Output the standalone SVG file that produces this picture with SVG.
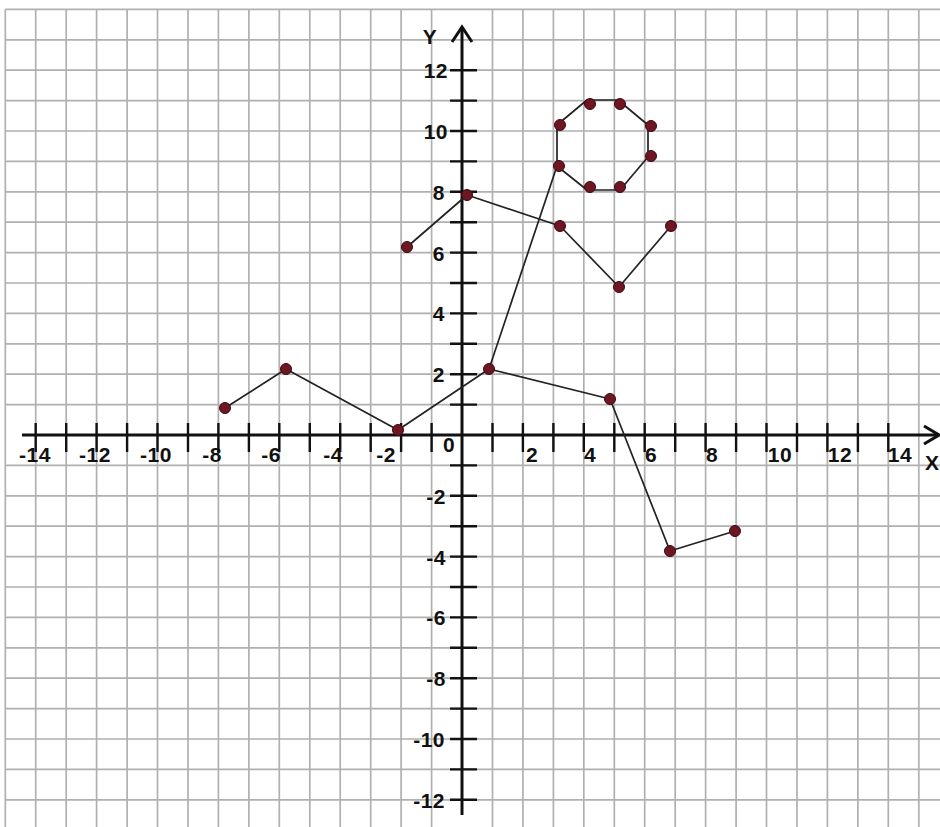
<svg xmlns="http://www.w3.org/2000/svg" width="940" height="827" viewBox="0 0 940 827">
<style>
.grid{stroke:#b0b0b0;stroke-width:1.7;fill:none}
.axis{stroke:#111;stroke-width:3;fill:none}
.tick{stroke:#111;stroke-width:2.4;fill:none}
.lbl{font-family:"Liberation Sans",Arial,sans-serif;font-size:21px;font-weight:bold;fill:#111;letter-spacing:0.5px}
.xl{text-anchor:middle}
.yl{text-anchor:end}
.edge{stroke:#222;stroke-width:1.7;fill:none;stroke-linejoin:round}
.pt{fill:#6e1622;stroke:#3a0a10;stroke-width:1}
</style>
<rect x="0" y="0" width="940" height="827" fill="#fff"/>
<g id="grid">
<path class="grid" d="M5.3 9.4V827M35.7 9.4V827M66.2 9.4V827M96.6 9.4V827M127.1 9.4V827M157.5 9.4V827M188 9.4V827M218.4 9.4V827M248.9 9.4V827M279.3 9.4V827M309.8 9.4V827M340.2 9.4V827M370.7 9.4V827M401.1 9.4V827M431.6 9.4V827M492.5 9.4V827M522.9 9.4V827M553.4 9.4V827M583.8 9.4V827M614.3 9.4V827M644.7 9.4V827M675.2 9.4V827M705.6 9.4V827M736.1 9.4V827M766.5 9.4V827M797 9.4V827M827.4 9.4V827M857.9 9.4V827M888.3 9.4V827M918.8 9.4V827"/>
<path class="grid" d="M5.3 9.4H940M5.3 39.8H940M5.3 70.2H940M5.3 100.6H940M5.3 131H940M5.3 161.4H940M5.3 191.8H940M5.3 222.2H940M5.3 252.6H940M5.3 283H940M5.3 313.4H940M5.3 343.8H940M5.3 374.2H940M5.3 404.6H940M5.3 465.4H940M5.3 495.8H940M5.3 526.2H940M5.3 556.6H940M5.3 587H940M5.3 617.4H940M5.3 647.8H940M5.3 678.2H940M5.3 708.6H940M5.3 739H940M5.3 769.4H940M5.3 799.8H940"/>
</g>
<g id="axes">
<path class="axis" d="M22 435H938"/>
<path class="axis" d="M924 426L939 435L924 444"/>
<path class="axis" d="M462 815V28"/>
<path class="axis" d="M452 42L462 27L472 42"/>
<path class="tick" d="M35.7 423V452M66.2 423V452M96.6 423V452M127.1 423V452M157.5 423V452M188 423V452M218.4 423V452M248.9 423V452M279.3 423V452M309.8 423V452M340.2 423V452M370.7 423V452M401.1 423V452M431.6 423V452M492.5 423V452M522.9 423V452M553.4 423V452M583.8 423V452M614.3 423V452M644.7 423V452M675.2 423V452M705.6 423V452M736.1 423V452M766.5 423V452M797 423V452M827.4 423V452M857.9 423V452M888.3 423V452"/>
<path class="tick" d="M450 70.2H477M450 100.6H477M450 131H477M450 161.4H477M450 191.8H477M450 222.2H477M450 252.6H477M450 283H477M450 313.4H477M450 343.8H477M450 374.2H477M450 404.6H477M450 465.4H477M450 495.8H477M450 526.2H477M450 556.6H477M450 587H477M450 617.4H477M450 647.8H477M450 678.2H477M450 708.6H477M450 739H477M450 769.4H477M450 799.8H477"/>
</g>
<g id="labels">
<text class="lbl xl" x="35" y="462">-14</text>
<text class="lbl xl" x="95" y="462">-12</text>
<text class="lbl xl" x="156" y="462">-10</text>
<text class="lbl xl" x="212" y="462">-8</text>
<text class="lbl xl" x="271" y="462">-6</text>
<text class="lbl xl" x="333" y="462">-4</text>
<text class="lbl xl" x="386" y="462">-2</text>
<text class="lbl xl" x="449" y="452">0</text>
<text class="lbl xl" x="532" y="462">2</text>
<text class="lbl xl" x="590" y="462">4</text>
<text class="lbl xl" x="651" y="462">6</text>
<text class="lbl xl" x="712" y="462">8</text>
<text class="lbl xl" x="780" y="462">10</text>
<text class="lbl xl" x="840" y="462">12</text>
<text class="lbl xl" x="900" y="462">14</text>
<text class="lbl" x="925" y="470" style="letter-spacing:0">X</text>
<text class="lbl xl" x="430" y="44">Y</text>
<text class="lbl yl" x="448" y="78">12</text>
<text class="lbl yl" x="448" y="139">10</text>
<text class="lbl yl" x="445" y="200">8</text>
<text class="lbl yl" x="445" y="261">6</text>
<text class="lbl yl" x="445" y="321">4</text>
<text class="lbl yl" x="445" y="382">2</text>
<text class="lbl yl" x="446" y="504">-2</text>
<text class="lbl yl" x="446" y="565">-4</text>
<text class="lbl yl" x="446" y="625">-6</text>
<text class="lbl yl" x="446" y="686">-8</text>
<text class="lbl yl" x="445" y="747">-10</text>
<text class="lbl yl" x="445" y="808">-12</text>
</g>
<g id="connectors">
<polyline class="edge" points="225,408 286,369 398,430 489,369 610,399 670,551 735,531"/>
<polyline class="edge" points="489,369 557,166"/>
<polygon class="edge" points="557,125 587,100 618,100 648,125 648,157 620,190 587,190 557,166"/>
<polyline class="edge" points="407,247 467,195 560,226 619,287 671,226"/>
</g>
<g id="nodes">
<circle id="p1" class="pt" cx="225" cy="408" r="5.5"/>
<circle id="p2" class="pt" cx="286" cy="369" r="5.5"/>
<circle id="p3" class="pt" cx="398" cy="430" r="5.5"/>
<circle id="p4" class="pt" cx="489" cy="369" r="5.5"/>
<circle id="p5" class="pt" cx="610" cy="399" r="5.5"/>
<circle id="p6" class="pt" cx="670" cy="551" r="5.5"/>
<circle id="p7" class="pt" cx="735" cy="531" r="5.5"/>
<circle id="p8" class="pt" cx="407" cy="247" r="5.5"/>
<circle id="p9" class="pt" cx="467" cy="195" r="5.5"/>
<circle id="p10" class="pt" cx="560" cy="226" r="5.5"/>
<circle id="p11" class="pt" cx="619" cy="287" r="5.5"/>
<circle id="p12" class="pt" cx="671" cy="226" r="5.5"/>
<circle id="o1" class="pt" cx="560" cy="125" r="5.5"/>
<circle id="o2" class="pt" cx="590" cy="104" r="5.5"/>
<circle id="o3" class="pt" cx="620" cy="104" r="5.5"/>
<circle id="o4" class="pt" cx="651" cy="126" r="5.5"/>
<circle id="o5" class="pt" cx="651" cy="156" r="5.5"/>
<circle id="o6" class="pt" cx="620" cy="187" r="5.5"/>
<circle id="o7" class="pt" cx="590" cy="187" r="5.5"/>
<circle id="o8" class="pt" cx="559" cy="166" r="5.5"/>
</g>
</svg>
